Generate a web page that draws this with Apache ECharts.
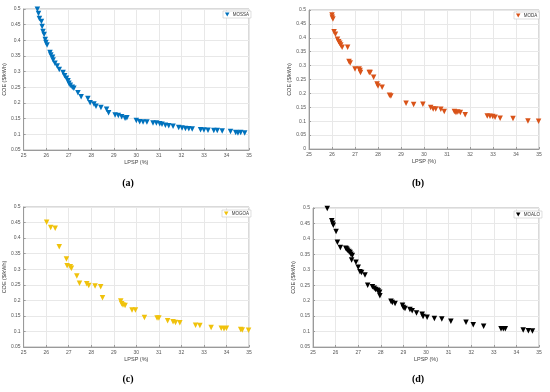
<!DOCTYPE html>
<html><head><meta charset="utf-8">
<script src="https://cdn.jsdelivr.net/npm/echarts@6/dist/echarts.min.js"></script>
<style>html,body{margin:0;padding:0;background:#fff}#c{width:550px;height:392px}</style>
</head><body><div id="c"></div>
<script>
const xTicks = [25,26,27,28,29,30,31,32,33,34,35];
const seriesNames = ['MOSSA','MODA','MOGOA','MOALO'];
const captions = ['(a)','(b)','(c)','(d)'];

const mossaLPSP = [25.61,25.66,25.70,25.79,25.82,25.86,25.91,25.96,25.99,26.04,26.17,26.21,26.28,26.31,26.39,26.49,26.58,26.75,26.82,26.90,26.97,27.01,27.07,27.16,27.23,27.41,27.55,27.85,27.95,28.12,28.21,28.43,28.68,28.77,29.06,29.20,29.35,29.50,29.58,30.00,30.15,30.30,30.47,30.74,30.89,31.04,31.14,31.29,31.44,31.63,31.88,32.03,32.18,32.33,32.48,32.85,33.00,33.18,33.44,33.59,33.81,34.18,34.41,34.51,34.63,34.81];
const mossaCOE = [0.499,0.486,0.470,0.460,0.444,0.428,0.419,0.403,0.393,0.385,0.361,0.353,0.346,0.337,0.327,0.318,0.307,0.297,0.287,0.279,0.271,0.263,0.257,0.250,0.247,0.233,0.220,0.214,0.201,0.197,0.190,0.186,0.180,0.169,0.162,0.160,0.156,0.151,0.153,0.144,0.140,0.139,0.139,0.136,0.136,0.134,0.132,0.129,0.127,0.126,0.122,0.120,0.119,0.118,0.117,0.115,0.114,0.113,0.112,0.112,0.111,0.109,0.106,0.104,0.106,0.104];

const modaLPSP = [26.00,26.01,26.04,26.09,26.15,26.24,26.29,26.34,26.38,26.44,26.68,26.74,26.79,27.00,27.18,27.22,27.24,27.62,27.66,27.81,27.96,28.00,28.18,28.50,28.56,29.22,29.55,29.95,30.29,30.40,30.51,30.73,30.88,31.32,31.39,31.47,31.58,31.79,32.75,32.87,32.99,33.09,33.31,33.87,34.52,34.98];
const modaCOE = [0.482,0.474,0.468,0.422,0.413,0.395,0.386,0.380,0.374,0.366,0.366,0.315,0.309,0.288,0.288,0.282,0.275,0.275,0.275,0.258,0.234,0.227,0.222,0.193,0.191,0.165,0.160,0.161,0.149,0.144,0.144,0.143,0.135,0.135,0.131,0.133,0.131,0.123,0.119,0.118,0.117,0.114,0.111,0.110,0.101,0.100];

const mogoaLPSP = [26.02,26.20,26.40,26.58,26.90,26.93,27.07,27.12,27.36,27.48,27.80,27.89,28.17,28.42,28.50,29.31,29.35,29.41,29.50,29.81,29.96,30.36,30.92,31.00,31.39,31.63,31.74,31.93,32.63,32.82,33.32,33.77,33.89,34.00,34.63,34.70,34.98];
const mogoaCOE = [0.451,0.434,0.432,0.372,0.333,0.311,0.308,0.303,0.278,0.255,0.253,0.248,0.246,0.244,0.208,0.198,0.189,0.185,0.183,0.169,0.169,0.145,0.143,0.143,0.134,0.131,0.129,0.128,0.120,0.119,0.113,0.110,0.109,0.110,0.106,0.105,0.104];

const moaloLPSP = [25.63,25.83,25.87,25.90,26.02,26.08,26.21,26.45,26.49,26.53,26.59,26.64,26.68,26.74,26.71,26.90,27.00,27.08,27.15,27.30,27.42,27.63,27.71,27.77,27.85,27.89,27.95,27.96,28.45,28.51,28.63,28.96,29.00,29.07,29.29,29.39,29.58,29.83,29.87,30.05,30.37,30.70,31.10,31.77,32.09,32.55,33.32,33.42,33.51,34.30,34.53,34.71];
const moaloCOE = [0.498,0.459,0.451,0.444,0.424,0.389,0.372,0.370,0.367,0.363,0.359,0.356,0.350,0.346,0.332,0.324,0.308,0.294,0.291,0.283,0.250,0.245,0.240,0.236,0.234,0.231,0.227,0.216,0.198,0.194,0.191,0.185,0.178,0.175,0.171,0.167,0.160,0.156,0.149,0.146,0.142,0.141,0.133,0.130,0.122,0.117,0.109,0.109,0.109,0.105,0.103,0.102];

const allX = [mossaLPSP, modaLPSP, mogoaLPSP, moaloLPSP];
const allY = [mossaCOE, modaCOE, mogoaCOE, moaloCOE];
const colors = ['#0072BD','#D95319','#F0C20C','#000000'];
const yMins = [0.05, 0, 0.05, 0.05];

const grids = [
  {left:22, top:9, width:227, height:141},
  {left:309, top:10, width:230, height:139},
  {left:22, top:207, width:227, height:140},
  {left:313, top:208, width:226, height:139}
];
const nameGaps = [14, 10, 14, 11];
const legendPos = [
  {left:223, top:11},
  {left:514, top:12},
  {left:222, top:210},
  {left:514, top:211}
];
const capPos = [[128,183],[418,183],[128,379],[418,379]];

const tri = 'path://M0,0L10,0L5,9Z';

const chart = echarts.init(document.getElementById('c'), null, {renderer:'canvas'});
const opt = {
  animation:false,
  backgroundColor:'#fff',
  grid: grids.map(g => Object.assign({show:true, borderColor:'#b5b5b5', borderWidth:1, backgroundColor:'#fff'}, g)),
  xAxis: grids.map((g,i) => ({
    gridIndex:i, type:'value', min:25, max:35, interval:1,
    name:'LPSP (%)', nameLocation:'middle', nameGap:9,
    nameTextStyle:{fontSize:5.5, color:'#444', fontFamily:'Liberation Sans'},
    axisLine:{show:true, onZero:false, lineStyle:{color:'#9a9a9a', width:1}},
    axisTick:{show:true, inside:true, length:2, lineStyle:{color:'#9a9a9a'}},
    axisLabel:{fontSize:5, color:'#555', margin:3, fontFamily:'Liberation Sans'},
    splitLine:{show:true, lineStyle:{color:'#e8e8e8', width:1}}
  })),
  yAxis: grids.map((g,i) => ({
    gridIndex:i, type:'value', min:yMins[i], max:0.5, interval:0.05,
    name:'COE ($/kWh)', nameLocation:'middle', nameGap:nameGaps[i], nameRotate:90,
    nameTextStyle:{fontSize:5.5, color:'#444', fontFamily:'Liberation Sans'},
    axisLine:{show:true, onZero:false, lineStyle:{color:'#9a9a9a', width:1}},
    axisTick:{show:true, inside:true, length:2, lineStyle:{color:'#9a9a9a'}},
    axisLabel:{fontSize:5, color:'#555', margin:3, fontFamily:'Liberation Sans',
      formatter: v => String(Math.round(v*100)/100)},
    splitLine:{show:true, lineStyle:{color:'#e8e8e8', width:1}}
  })),
  legend: seriesNames.map((n,i) => ({
    data:[{name:n, icon:tri}], left:legendPos[i].left, top:legendPos[i].top,
    orient:'vertical', padding:[1,2,1,2], itemWidth:5, itemHeight:4, itemGap:0,
    backgroundColor:'#fff', borderColor:'#c8c8c8', borderWidth:0.6,
    textStyle:{fontSize:4.5, color:'#333', fontFamily:'Liberation Sans', padding:[0,0,0,-2]}
  })),
  series: seriesNames.map((n,i) => ({
    name:n, type:'scatter', xAxisIndex:i, yAxisIndex:i,
    symbol:'triangle', symbolRotate:180, symbolSize:[5.5,5.5],
    itemStyle:{color:colors[i], opacity:1},
    data: allX[i].map((x,k) => [x, allY[i][k]]),
    clip:false
  })),
  graphic: captions.map((c,i) => ({
    type:'text', x:capPos[i][0], y:capPos[i][1],
    style:{text:c, font:'bold 10px "Liberation Serif"', fill:'#000', textAlign:'center', textVerticalAlign:'middle'}
  }))
};
chart.setOption(opt);
</script></body></html>
